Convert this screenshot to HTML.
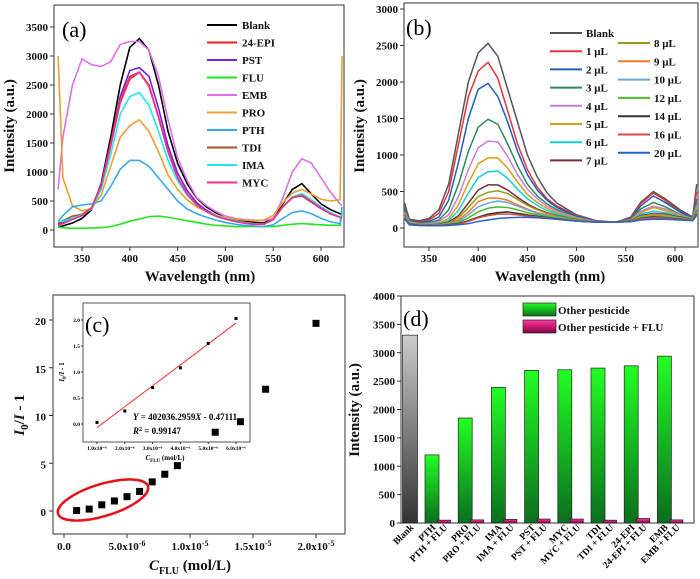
<!DOCTYPE html>
<html><head><meta charset="utf-8">
<style>
html,body{margin:0;padding:0;background:#fff;}
svg{display:block;font-family:"Liberation Serif",serif;}
.tk{font-size:11px;font-weight:bold;fill:#111;}
.ttl{font-size:15px;font-weight:bold;fill:#111;}
.lg{font-size:11px;font-weight:bold;fill:#111;}
</style></head>
<body>
<svg id="fig" width="700" height="579" viewBox="0 0 700 579" xmlns="http://www.w3.org/2000/svg"></svg>
<script>
// ---------- Panel (a) data ----------
const aWave = [325,330,340,350,360,370,380,390,400,410,420,430,440,450,460,470,480,490,500,510,520,530,540,550,560,570,580,590,600,610,620,622];
const aBlank = [50,70,120,200,350,800,1600,2500,3150,3300,3100,2500,1700,1150,800,550,400,300,230,180,150,130,120,200,450,700,800,620,450,350,280,270];
const aEPI = [100,130,200,250,380,750,1450,2200,2600,2720,2500,1950,1350,900,620,430,320,240,190,150,120,100,100,180,400,560,590,480,380,280,220,210];
const aPST = [80,120,200,260,380,780,1500,2300,2750,2800,2650,2100,1450,980,680,470,340,260,200,160,130,110,100,180,400,560,600,480,370,280,220,210];
const aFLU = [50,40,30,30,35,40,60,100,150,190,230,240,220,190,160,130,100,80,70,60,60,60,60,60,80,100,110,100,90,80,80,300];
const aEMB = [700,1600,2500,2950,2850,2820,2900,3200,3250,3250,3100,2650,1900,1250,850,560,420,320,240,200,180,170,160,200,550,1000,1230,1150,900,650,450,420];
const aPRO = [3000,900,420,330,370,600,1100,1600,1800,1900,1700,1350,950,700,520,400,320,260,220,190,170,160,170,250,470,640,700,620,530,500,520,3000];
const aPTH = [150,250,400,430,450,500,750,1050,1200,1200,1100,900,700,500,360,280,220,170,130,100,80,70,60,90,200,300,330,280,200,140,110,400];
const aTDI = [120,160,240,270,380,760,1500,2250,2650,2720,2480,1950,1350,900,620,430,320,240,190,150,120,100,100,180,400,560,590,480,380,280,220,210];
const aIMA = [150,150,200,260,360,700,1300,2000,2300,2370,2150,1700,1200,850,600,430,320,250,200,160,130,110,100,180,400,570,630,520,400,300,220,220];
const aMYC = [80,110,180,250,380,760,1480,2230,2620,2720,2480,1950,1350,900,620,430,320,240,190,150,120,100,100,180,400,560,600,490,380,280,220,210];
const aNames = ["Blank","24-EPI","PST","FLU","EMB","PRO","PTH","TDI","IMA","MYC"];
const aColors = ["#000000","#ff1a1a","#7a1ee6","#1ee61e","#e070ec","#e8a030","#3aa8f0","#a0522d","#20e8f0","#f0308a"];
const aSeries = [aBlank,aEPI,aPST,aFLU,aEMB,aPRO,aPTH,aTDI,aIMA,aMYC];
const aYTicks = [0,500,1000,1500,2000,2500,3000,3500];
const waveTicks = [350,400,450,500,550,600];

// ---------- Panel (b) data ----------
const bWave = [325,330,340,350,360,370,380,390,400,410,420,430,440,450,460,470,480,500,520,540,555,565,578,590,605,618,622];
const bBlank = [350,120,100,130,250,600,1300,2000,2400,2530,2350,1900,1450,1000,700,480,340,180,100,80,150,350,500,400,250,150,600];
const b1 = [300,110,90,110,200,500,1150,1800,2150,2270,2050,1600,1150,800,560,400,300,170,95,80,140,330,480,380,230,140,500];
const b2 = [280,100,80,90,150,380,900,1500,1900,1980,1800,1450,1050,730,520,380,280,160,90,80,130,300,440,350,220,140,400];
const b3 = [250,90,70,70,110,250,600,1050,1380,1490,1420,1150,850,600,440,330,250,150,85,80,120,260,350,290,190,130,350];
const b4 = [220,80,60,60,90,180,430,800,1100,1190,1180,980,730,530,400,300,230,140,85,80,110,230,300,260,180,130,300];
const b5 = [200,70,55,55,70,130,320,620,880,960,960,820,630,460,350,270,210,130,80,80,110,210,280,240,170,125,280];
const b6 = [190,65,50,50,60,100,240,480,690,770,780,680,530,400,310,240,190,120,80,80,100,190,230,210,160,120,260];
const b7 = [180,60,50,45,50,80,170,340,520,590,590,520,420,330,260,210,170,115,80,80,100,170,200,190,150,120,240];
const b8 = [170,60,45,40,45,70,140,280,430,490,510,470,390,310,250,200,165,110,80,80,95,160,190,180,140,115,230];
const b9 = [160,55,45,40,40,60,110,220,360,410,410,380,320,260,210,180,150,105,80,80,95,150,180,170,135,110,220];
const b10 = [150,50,40,40,40,55,90,180,290,340,370,350,300,250,200,170,145,100,80,80,90,145,170,160,130,110,210];
const b12 = [150,50,40,38,38,50,75,140,220,270,290,280,250,210,180,155,135,100,80,80,90,140,160,150,125,110,200];
const b14 = [140,50,40,35,35,45,60,100,150,190,210,220,200,180,160,140,125,95,80,80,90,130,150,140,120,105,190];
const b16 = [140,45,38,35,35,40,55,90,140,170,190,190,180,165,150,135,120,95,80,80,90,125,140,135,115,105,180];
const b20 = [130,45,35,30,30,35,45,60,90,110,130,140,145,145,140,130,120,95,80,80,85,110,120,120,110,100,170];
const bNames = ["Blank","1 \u03bcL","2 \u03bcL","3 \u03bcL","4 \u03bcL","5 \u03bcL","6 \u03bcL","7 \u03bcL","8 \u03bcL","9 \u03bcL","10 \u03bcL","12 \u03bcL","14 \u03bcL","16 \u03bcL","20 \u03bcL"];
const bColors = ["#555555","#e8333a","#1f5fbf","#2e8b57","#c77ddb","#d4a017","#12d0d8","#7a2e3a","#9a9a1a","#f07a20","#6aa6d8","#4bb82a","#333333","#e04848","#2565c8"];
const bSeries = [bBlank,b1,b2,b3,b4,b5,b6,b7,b8,b9,b10,b12,b14,b16,b20];
const bYTicks = [0,500,1000,1500,2000,2500,3000];

// ---------- Panel (c) data ----------
const cConc = [1,2,3,4,5,6,7,8,9,12,14,16,20];           // x 1e-6 mol/L
const cRatio = [0.05,0.2,0.65,1.05,1.5,2.05,3.05,3.85,4.75,8.25,9.35,12.75,19.65];
const cYTicks = [0,5,10,15,20];
const cXTicks = [0,5,10,15,20];
const insetConc = [1,2,3,4,5,6];
const insetRatio = [0.03,0.25,0.7,1.08,1.55,2.03];
const insetYTicks = [0,0.5,1,1.5,2];
const insetXTicks = [1,2,3,4,5,6];
const fitSlope = 0.4020362959; // per 1e-6
const fitIntercept = -0.47111;

// ---------- Panel (d) data ----------
const dCats = ["PTH","PRO","IMA","PST","MYC","TDI","24-EPI","EMB"];
const dBlank = 3310;
const dOther = [1200,1850,2390,2690,2700,2730,2770,2940];
const dWithFlu = [50,55,65,70,70,50,80,55];
const dYTicks = [0,500,1000,1500,2000,2500,3000,3500,4000];

const svg = document.getElementById('fig');
const NS = "http://www.w3.org/2000/svg";
function mk(tag, attrs, parent){
  const e = document.createElementNS(NS, tag);
  for (const k in attrs) e.setAttribute(k, attrs[k]);
  (parent||svg).appendChild(e);
  return e;
}
function txt(x,y,s,cls,anchor,parent){
  const t = mk('text',{x:x,y:y,'class':cls,'text-anchor':anchor||'middle'},parent);
  t.textContent = s;
  return t;
}

const defs = mk('defs',{});
const g1 = mk('linearGradient',{id:'gGreen',x1:0,y1:0,x2:0,y2:1},defs);
mk('stop',{offset:'0','stop-color':'#22ff22'},g1); mk('stop',{offset:'1','stop-color':'#0a6e1e'},g1);
const g2 = mk('linearGradient',{id:'gPink',x1:0,y1:0,x2:0,y2:1},defs);
mk('stop',{offset:'0','stop-color':'#ff3aa0'},g2); mk('stop',{offset:'1','stop-color':'#8a0040'},g2);
const g3 = mk('linearGradient',{id:'gGray',x1:0,y1:0,x2:0,y2:1},defs);
mk('stop',{offset:'0','stop-color':'#cccccc'},g3); mk('stop',{offset:'1','stop-color':'#333333'},g3);

// ================= Panel (a) =================
const axA = {x0:54,x1:344,y0:5,y1:247};
const xA = w => 54 + (w-320.7)*0.956;
const yA = v => 230 - v*0.058;
let el;
el = mk('rect',{x:axA.x0,y:axA.y0,width:axA.x1-axA.x0,height:axA.y1-axA.y0,fill:'none',stroke:'#333','stroke-width':1});


aYTicks.forEach(v=>{
  mk('line',{x1:axA.x0-4,x2:axA.x0,y1:yA(v),y2:yA(v),stroke:'#333'});
  el = txt(axA.x0-6,yA(v)+4,String(v),'tk','end');
  
  
});
waveTicks.forEach(v=>{
  mk('line',{x1:xA(v),x2:xA(v),y1:axA.y1,y2:axA.y1+4,stroke:'#333'});
  el = txt(xA(v),axA.y1+15,String(v),'tk','middle');
  
  
});
const clipA = mk('clipPath',{id:'clipA'},defs);
mk('rect',{x:axA.x0,y:axA.y0,width:axA.x1-axA.x0,height:axA.y1-axA.y0},clipA);
aSeries.forEach((s,i)=>{
  el = mk('polyline',{points:s.map((v,j)=>xA(aWave[j])+','+yA(v)).join(' '),fill:'none',stroke:aColors[i],'stroke-width':1.6,'clip-path':'url(#clipA)'});
  
  
  const ly = 25 + i*17.5;
  el = mk('line',{x1:207,x2:237,y1:ly,y2:ly,stroke:aColors[i],'stroke-width':2});
  
  
  el = txt(242,ly+4,aNames[i],'lg','start');
  
  
});
el = txt(62,37,'(a)','','start'); el.setAttribute('font-size','22');


el = txt(200,281,'Wavelength (nm)','ttl','middle');


el = txt(0,0,'Intensity (a.u.)','ttl','middle'); el.setAttribute('transform','translate(14,126) rotate(-90)');



// ================= Panel (b) =================
const axB = {x0:404,x1:698,y0:3,y1:247};
const xB = w => 429 + (w-350)*0.984;
const yB = v => 228 - v*0.073;
el = mk('rect',{x:axB.x0,y:axB.y0,width:axB.x1-axB.x0,height:axB.y1-axB.y0,fill:'none',stroke:'#333','stroke-width':1});


bYTicks.forEach(v=>{
  mk('line',{x1:axB.x0-4,x2:axB.x0,y1:yB(v),y2:yB(v),stroke:'#333'});
  el = txt(axB.x0-6,yB(v)+4,String(v),'tk','end');
  
  
});
waveTicks.forEach(v=>{
  mk('line',{x1:xB(v),x2:xB(v),y1:axB.y1,y2:axB.y1+4,stroke:'#333'});
  el = txt(xB(v),axB.y1+15,String(v),'tk','middle');
  
  
});
bSeries.forEach((s,i)=>{
  el = mk('polyline',{points:s.map((v,j)=>xB(bWave[j])+','+yB(v)).join(' '),fill:'none',stroke:bColors[i],'stroke-width':1.5});
  
  
  let lx, ly;
  if (i<8){ lx=550; ly=33+i*18.2; } else { lx=618; ly=43+(i-8)*18.3; }
  el = mk('line',{x1:lx,x2:lx+32,y1:ly,y2:ly,stroke:bColors[i],'stroke-width':2});
  
  
  el = txt(lx+36,ly+4,bNames[i],'lg','start');
  
  
});
el = txt(406,35,'(b)','','start'); el.setAttribute('font-size','22');


el = txt(550,281,'Wavelength (nm)','ttl','middle');


el = txt(0,0,'Intensity (a.u.)','ttl','middle'); el.setAttribute('transform','translate(364,126) rotate(-90)');



// ================= Panel (c) =================
const axC = {x0:53,x1:345,y0:295,y1:534};
const xC = c => 64 + c*12.6;
const yC = v => 511 - v*9.55;
el = mk('rect',{x:axC.x0,y:axC.y0,width:axC.x1-axC.x0,height:axC.y1-axC.y0,fill:'none',stroke:'#333','stroke-width':1});


cYTicks.forEach(v=>{
  mk('line',{x1:axC.x0-4,x2:axC.x0,y1:yC(v),y2:yC(v),stroke:'#333'});
  el = txt(axC.x0-7,yC(v)+5,String(v),'tk','end'); el.setAttribute('font-size','13');
  
  
});
const cXLab = ['0.0','5.0x10','1.0x10','1.5x10','2.0x10'];
const cXExp = ['','-6','-5','-5','-5'];
cXTicks.forEach((v,i)=>{
  mk('line',{x1:xC(v),x2:xC(v),y1:axC.y1,y2:axC.y1+4,stroke:'#333'});
  el = txt(xC(v),axC.y1+16,'','tk','middle');
  el.textContent = cXLab[i];
  if (cXExp[i]){ const sp = mk('tspan',{dy:-4,'font-size':8},el); sp.textContent = cXExp[i]; }
  
  
});
el = mk('ellipse',{cx:103,cy:500,rx:47,ry:16,fill:'none',stroke:'#e8101a','stroke-width':2.5,transform:'rotate(-17 103 500)'});


el = txt(0,0,'','ttl','middle'); el.setAttribute('font-size','17');
el.setAttribute('transform','translate(24,415) rotate(-90)');
el.innerHTML = '<tspan font-style="italic">I</tspan><tspan font-size="11" dy="4">0</tspan><tspan dy="-4">/</tspan><tspan font-style="italic">I</tspan><tspan> - 1</tspan>';


el = txt(190,570,'','ttl','middle'); el.setAttribute('font-size','16');
el.innerHTML = '<tspan font-style="italic">C</tspan><tspan font-size="10" dy="4">FLU</tspan><tspan dy="-4"> (mol/L)</tspan>';



// inset
const axI = {x0:83,x1:250,y0:303,y1:442};
const xI = c => 97 + (c-1)*27.8;
const yI = v => 424 - v*52;
el = mk('rect',{x:axI.x0,y:axI.y0,width:axI.x1-axI.x0,height:axI.y1-axI.y0,fill:'#fff',stroke:'#555','stroke-width':1});


insetYTicks.forEach(v=>{
  mk('line',{x1:axI.x0-2,x2:axI.x0,y1:yI(v),y2:yI(v),stroke:'#333'});
  el = txt(axI.x0-3,yI(v)+2,v.toFixed(1),'','end'); el.setAttribute('font-size','5.5'); el.setAttribute('font-weight','bold');
  
  
});
insetXTicks.forEach(v=>{
  mk('line',{x1:xI(v),x2:xI(v),y1:axI.y1,y2:axI.y1+2,stroke:'#333'});
  el = txt(xI(v),axI.y1+8,v.toFixed(1)+'x10\u207b\u2076','','middle'); el.setAttribute('font-size','5.5'); el.setAttribute('font-weight','bold');
  
  
});
el = mk('line',{x1:xI(1),y1:yI(fitSlope*1+fitIntercept),x2:xI(6),y2:yI(fitSlope*6+fitIntercept),stroke:'#ee3333','stroke-width':1});


insetConc.forEach((c,i)=>{
  el = mk('rect',{x:xI(c)-1.5,y:yI(insetRatio[i])-1.5,width:3,height:3,fill:'#000'});
  
  
});
el = txt(133,420,'','','start'); el.setAttribute('font-size','9'); el.setAttribute('font-weight','bold');
el.innerHTML = '<tspan font-style="italic">Y</tspan> = 402036.2959<tspan font-style="italic">X</tspan> - 0.47111';


el = txt(133,434,'','','start'); el.setAttribute('font-size','9'); el.setAttribute('font-weight','bold');
el.innerHTML = '<tspan font-style="italic">R</tspan><tspan font-size="6" dy="-3">2</tspan><tspan dy="3"> = 0.99147</tspan>';


el = txt(165,460,'','','middle'); el.setAttribute('font-size','7'); el.setAttribute('font-weight','bold');
el.innerHTML = '<tspan font-style="italic">C</tspan><tspan font-size="5" dy="2">FLU</tspan><tspan dy="-2"> (mol/L)</tspan>';


el = txt(0,0,'','','middle'); el.setAttribute('font-size','7'); el.setAttribute('font-weight','bold');
el.setAttribute('transform','translate(64,372) rotate(-90)');
el.innerHTML = '<tspan font-style="italic">I</tspan><tspan font-size="5" dy="2">0</tspan><tspan dy="-2">/</tspan><tspan font-style="italic">I</tspan> - 1';


el = txt(85,332,'(c)','','start'); el.setAttribute('font-size','22');


// main points drawn after inset so they sit on top
cConc.forEach((c,i)=>{
  el = mk('rect',{x:xC(c)-3.5,y:yC(cRatio[i])-3.5,width:7,height:7,fill:'#000'});
  
  
});

// ================= Panel (d) =================
const axD = {x0:401,x1:694,y0:296,y1:523};
const yD = v => 523 - v*0.05675;
const greenX = i => 432 + i*33.2;
el = mk('rect',{x:axD.x0,y:axD.y0,width:axD.x1-axD.x0,height:axD.y1-axD.y0,fill:'none',stroke:'#333','stroke-width':1});


dYTicks.forEach(v=>{
  mk('line',{x1:axD.x0-4,x2:axD.x0,y1:yD(v),y2:yD(v),stroke:'#333'});
  el = txt(axD.x0-6,yD(v)+4,String(v),'tk','end');
  
  
});
function xlab(x,s){
  const t = txt(0,0,s,'','end'); t.setAttribute('font-size','9.5'); t.setAttribute('font-weight','bold');
  t.setAttribute('transform','translate('+(x+4)+',528) rotate(-45)');
  return t;
}
el = mk('rect',{x:410-7.5,y:yD(dBlank),width:15,height:yD(0)-yD(dBlank),fill:'url(#gGray)',stroke:'#222','stroke-width':0.7});


el = xlab(410,'Blank');


dCats.forEach((c,i)=>{
  const gx = greenX(i);
  el = mk('rect',{x:gx-7,y:yD(dOther[i]),width:14,height:yD(0)-yD(dOther[i]),fill:'url(#gGreen)',stroke:'#222','stroke-width':0.7});
  
  
  el = mk('rect',{x:gx+5.5,y:yD(dWithFlu[i]),width:13,height:yD(0)-yD(dWithFlu[i]),fill:'url(#gPink)',stroke:'#222','stroke-width':0.7});
  
  
  el = xlab(gx,c);
  
  
  el = xlab(gx+12,c+' + FLU');
  
  
});
el = mk('rect',{x:523,y:303,width:33,height:13,fill:'url(#gGreen)',stroke:'#222','stroke-width':0.7});


el = txt(558,314,'Other pesticide','lg','start'); el.setAttribute('font-size','12');


el = mk('rect',{x:523,y:320,width:33,height:13,fill:'url(#gPink)',stroke:'#222','stroke-width':0.7});


el = txt(558,331,'Other pesticide + FLU','lg','start'); el.setAttribute('font-size','12');


el = txt(403,326,'(d)','','start'); el.setAttribute('font-size','22');


el = txt(0,0,'Intensity (a.u.)','ttl','middle'); el.setAttribute('transform','translate(359,410) rotate(-90)');


</script>
</body></html>
